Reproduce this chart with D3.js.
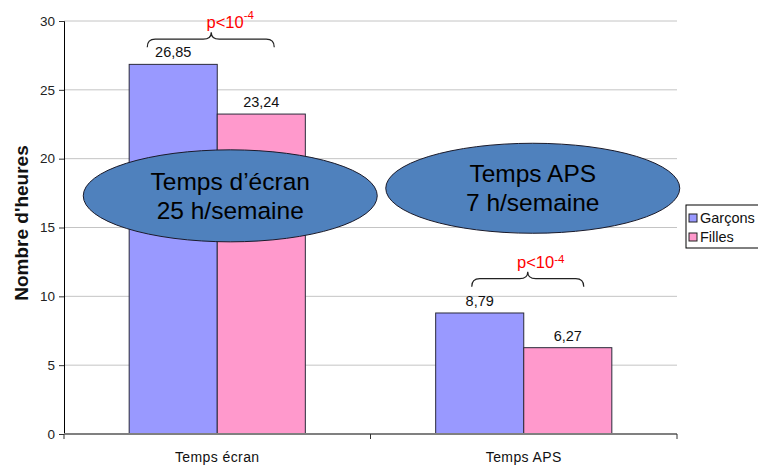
<!DOCTYPE html>
<html>
<head>
<meta charset="utf-8">
<script src="https://cdn.jsdelivr.net/npm/d3@7.9.0/dist/d3.min.js"></script>
<style>
  body { margin: 0; background: #fff; }
  svg { display: block; font-family: "Liberation Sans", Arial, sans-serif; }
</style>
</head>
<body>
<svg id="chart" width="758" height="468"></svg>
<script>
// data
const categories = ['Temps écran', 'Temps APS'];
const series = ['Garçons', 'Filles'];
const garcons = [26.85, 8.79];
const filles = [23.24, 6.27];
const yTicks = [0, 5, 10, 15, 20, 25, 30];
const bubbleLines = [['Temps d\u2019écran', '25 h/semaine'], ['Temps APS', '7 h/semaine']];

const colors = { 'Garçons': '#9999FF', 'Filles': '#FF99CC' };
const values = { 'Garçons': garcons, 'Filles': filles };

const svg = d3.select('#chart');

const x = d3.scaleBand().domain(categories).range([64, 677]);
const x1 = d3.scaleBand().domain(series).range([0, x.bandwidth()]).paddingOuter(0.74);
const y = d3.scaleLinear().domain([0, 30]).range([434, 21]);

// gridlines
svg.append('g')
  .selectAll('line')
  .data(yTicks.filter((d) => d > 0))
  .join('line')
  .attr('x1', 64).attr('x2', 677)
  .attr('y1', (d) => y(d)).attr('y2', (d) => y(d))
  .attr('stroke', '#c4c4c4').attr('stroke-width', 1);

// y axis
const yAxis = svg.append('g')
  .attr('transform', 'translate(64,0)')
  .call(d3.axisLeft(y).tickValues(yTicks).tickSize(5).tickPadding(4));
yAxis.select('.domain').attr('stroke', '#000');
yAxis.selectAll('.tick line').attr('stroke', '#333');
yAxis.selectAll('text').attr('font-size', 13.5).attr('fill', '#222')
  .attr('font-family', '"Liberation Sans", Arial, sans-serif');

svg.append('text')
  .attr('transform', 'translate(28,223) rotate(-90)')
  .attr('text-anchor', 'middle')
  .attr('font-size', 19).attr('font-weight', 'bold').attr('fill', '#111')
  .text('Nombre d\'heures');

// bars
const groups = svg.append('g')
  .selectAll('g')
  .data(categories)
  .join('g')
  .attr('transform', (d) => `translate(${x(d)},0)`);

groups.each(function (cat, ci) {
  const g = d3.select(this);
  series.forEach((s) => {
    const v = values[s][ci];
    g.append('rect')
      .attr('x', x1(s)).attr('width', x1.bandwidth())
      .attr('y', y(v)).attr('height', y(0) - y(v))
      .attr('fill', colors[s]).attr('stroke', '#2a2a3a').attr('stroke-width', 1);
    g.append('text')
      .attr('x', x1(s) + x1.bandwidth() / 2)
      .attr('y', y(v) - 7)
      .attr('text-anchor', 'middle')
      .attr('font-size', 14.5).attr('fill', '#111')
      .text(v.toFixed(2).replace('.', ','));
  });
});

// x axis
svg.append('line')
  .attr('x1', 64).attr('x2', 677).attr('y1', y(0)).attr('y2', y(0))
  .attr('stroke', '#808080').attr('stroke-width', 2);
const bounds = categories.map((c) => x(c)).concat([x.range()[1]]);
svg.append('g').selectAll('line')
  .data(bounds)
  .join('line')
  .attr('x1', (d) => d).attr('x2', (d) => d)
  .attr('y1', y(0)).attr('y2', y(0) + 5)
  .attr('stroke', '#333');
svg.append('g').selectAll('text')
  .data(categories)
  .join('text')
  .attr('x', (d) => x(d) + x.bandwidth() / 2)
  .attr('y', 462)
  .attr('text-anchor', 'middle')
  .attr('font-size', 14).attr('letter-spacing', 0.4).attr('fill', '#111')
  .text((d) => d);

// braces with p-values
const braces = [
  { cat: 0, left: -70, right: 57, tip: -6, base: 28.1, textDx: 19, supDy: -9 },
  { cat: 1, left: -52, right: 60, tip: 4, base: 10.7, textDx: 13, supDy: -5 }
];
braces.forEach((b) => {
  const cx = x(categories[b.cat]) + x.bandwidth() / 2;
  const x0 = cx + b.left, x2 = cx + b.right, xm = cx + b.tip;
  const yb = y(b.base), yh = yb - 8, yt = yb - 15;
  const r = 8;
  const path = `M${x0},${yb} Q${x0},${yh} ${x0 + r},${yh} L${xm - r},${yh} Q${xm},${yh} ${xm},${yt}`
    + ` Q${xm},${yh} ${xm + r},${yh} L${x2 - r},${yh} Q${x2},${yh} ${x2},${yb}`;
  svg.append('path').attr('d', path).attr('fill', 'none')
    .attr('stroke', '#222').attr('stroke-width', 1.2);
  const t = svg.append('text')
    .attr('x', xm + b.textDx).attr('y', yt - 4)
    .attr('text-anchor', 'middle')
    .attr('font-size', 16.5).attr('fill', '#ff0000');
  t.append('tspan').text('p<10');
  t.append('tspan').attr('dy', b.supDy).attr('font-size', 11.5).text('-4');
});

// ellipses
const bubbles = [
  { cat: 0, dx: 13, cy: 17.3, rx: 147, ry: 46 },
  { cat: 1, dx: 9, cy: 17.85, rx: 147, ry: 45 }
];
bubbles.forEach((b, i) => {
  const cx = x(categories[b.cat]) + x.bandwidth() / 2 + b.dx;
  const cy = y(b.cy);
  svg.append('ellipse')
    .attr('cx', cx).attr('cy', cy).attr('rx', b.rx).attr('ry', b.ry)
    .attr('fill', '#4f81bd').attr('stroke', '#1a1a2a').attr('stroke-width', 1);
  bubbleLines[i].forEach((line, li) => {
    svg.append('text')
      .attr('x', cx).attr('y', cy - 6 + li * 29)
      .attr('text-anchor', 'middle')
      .attr('font-size', 24.5).attr('fill', '#000')
      .text(line);
  });
});

// legend
const legend = svg.append('g').attr('transform', 'translate(686,205)');
legend.append('rect').attr('width', 80).attr('height', 43)
  .attr('fill', '#fff').attr('stroke', '#000');
series.forEach((s, i) => {
  legend.append('rect')
    .attr('x', 3).attr('y', 9 + i * 19).attr('width', 8).attr('height', 8)
    .attr('fill', colors[s]).attr('stroke', '#222');
  legend.append('text')
    .attr('x', 14).attr('y', 18 + i * 19)
    .attr('font-size', 14.5).attr('fill', '#111')
    .text(s);
});
</script>
</body>
</html>
